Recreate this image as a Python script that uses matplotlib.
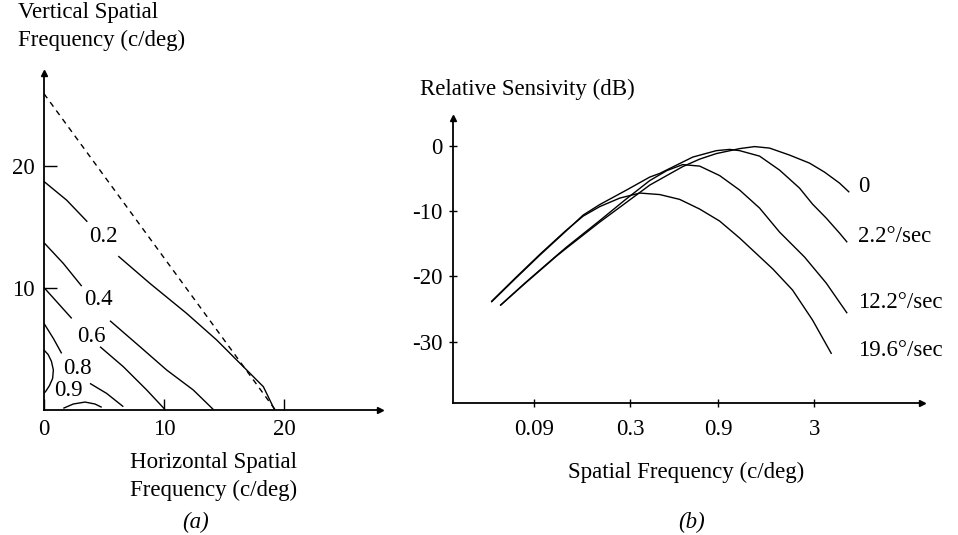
import matplotlib
matplotlib.use("Agg")
import matplotlib.pyplot as plt
from matplotlib.ticker import NullLocator

# ---------------- data: panel (a) contour lines (c/deg) ----------------
dash_x = [0.0, 19.25]
dash_y = [25.9, 0.0]

c02_a_x = [0.0, 1.89, 3.61]
c02_a_y = [18.7, 17.17, 15.4]
c02_b_x = [6.19, 8.83, 11.89, 14.39, 16.89, 18.28, 19.2]
c02_b_y = [12.58, 10.34, 7.88, 5.70, 3.24, 1.87, 0.0]

c04_a_x = [0.0, 1.61, 3.14]
c04_a_y = [13.68, 11.98, 10.12]
c04_b_x = [5.5, 8.0, 10.22, 12.44, 14.11]
c04_b_y = [7.28, 5.15, 3.24, 1.6, 0.0]

c06_a_x = [0.0, 1.06, 2.31]
c06_a_y = [10.0, 8.84, 7.47]
c06_b_x = [4.67, 6.61, 8.56, 10.08]
c06_b_y = [5.15, 3.51, 1.6, 0.0]

c08_a_x = [0.0, 0.78, 1.47]
c08_a_y = [7.06, 5.83, 4.6]
c08_b_x = [3.83, 5.22, 6.61]
c08_b_y = [2.14, 1.32, 0.23]

c09_a_x = [0.0, 0.35, 0.62, 0.78, 0.72, 0.45, 0.15, 0.0]
c09_a_y = [4.88, 4.5, 3.95, 3.24, 2.55, 1.95, 1.5, 1.33]
c09_b_x = [1.61, 2.44, 3.42, 4.25, 4.81]
c09_b_y = [0.1, 0.45, 0.61, 0.45, 0.18]

contour_labels = ["0.2", "0.4", "0.6", "0.8", "0.9"]
contour_label_x = [4.94, 4.56, 3.97, 2.75, 2.03]
contour_label_y = [14.2, 9.0, 5.97, 3.37, 1.54]

a_xticks = [0, 10, 20]
a_yticks = [10, 20]

# ---------------- data: panel (b) sensitivity curves ----------------
freq_0 = [0.0594, 0.0804, 0.1195, 0.1353, 0.2050, 0.2802, 0.3827, 0.5777, 0.7142,
          0.8799, 1.1769, 1.4191, 1.7113, 2.1963, 2.8190, 3.4004, 4.1010, 4.6036]
db_0 = [-24.40, -21.10, -16.89, -15.67, -11.68, -8.85, -6.02, -3.19, -2.04,
        -1.19, -0.43, -0.12, -0.35, -1.42, -2.65, -4.03, -5.71, -7.04]

freq_2_2 = [0.0531, 0.0710, 0.0970, 0.1325, 0.1665, 0.2050, 0.2862, 0.3827, 0.4336,
            0.6546, 0.8799, 1.0387, 1.1769, 1.5105, 1.9390, 2.4886, 2.9268, 3.4732,
            4.1010, 4.4906]
db_2_2 = [-23.89, -20.41, -16.74, -13.22, -10.61, -9.00, -6.78, -4.79, -4.23,
          -1.73, -0.74, -0.55, -0.74, -1.58, -3.72, -6.48, -8.93, -11.07,
          -13.37, -14.70]

freq_12_2 = [0.0594, 0.0804, 0.1195, 0.1353, 0.2050, 0.2802, 0.3827, 0.4733, 0.5777,
             0.7142, 0.9168, 1.1769, 1.5105, 1.9390, 2.6485, 3.4732, 4.4906]
db_12_2 = [-24.40, -21.03, -16.81, -15.51, -11.45, -8.32, -5.33, -3.80, -2.88,
           -3.11, -4.56, -6.78, -9.54, -13.22, -17.04, -21.03, -25.57]

freq_19_6 = [0.0531, 0.0710, 0.0970, 0.1325, 0.1665, 0.2050, 0.2632, 0.3379, 0.4336,
             0.5564, 0.7142, 0.9168, 1.1769, 1.7833, 2.2803, 2.9268, 3.6972]
db_19_6 = [-23.80, -20.30, -16.62, -13.12, -10.77, -9.31, -8.01, -7.24, -7.47,
           -8.21, -9.69, -11.53, -14.13, -18.88, -22.10, -26.69, -31.79]

curve_labels = ["0", "2.2°/sec", "12.2°/sec", "19.6°/sec"]
curve_label_db = [-6.3, -13.9, -24.0, -31.3]
b_xticks = [0.09, 0.3, 0.9, 3]
b_xticklabels = ["0.09", "0.3", "0.9", "3"]
b_yticks = [0, -10, -20, -30]

# ---------------- figure ----------------
W, H = 958, 535
fig = plt.figure(figsize=(W / 100, H / 100), dpi=100)
SERIF = ["Liberation Serif", "DejaVu Serif"]
plt.rcParams["font.family"] = SERIF
LW = 1.0
FS_TICK = 16.5
FS_LAB = 16.5


def px_axes(left, right, bottom, top):
    return fig.add_axes([left / W, 1 - bottom / H, (right - left) / W, (bottom - top) / H])


def style(ax):
    for s in ("top", "right"):
        ax.spines[s].set_visible(False)
    for s in ("left", "bottom"):
        ax.spines[s].set_linewidth(1.3)
    ax.patch.set_alpha(0)
    ax.plot([1], [0], marker=">", color="k", ms=5, transform=ax.transAxes, clip_on=False)
    ax.plot([0], [1], marker="^", color="k", ms=5, transform=ax.transAxes, clip_on=False)


# ---- panel (a)
axa = px_axes(44, 380, 409.5, 73)
style(axa)
axa.set_xlim(0, 28.0)
axa.set_ylim(0, 27.6)
axa.plot(dash_x, dash_y, color="k", lw=LW, ls=(0, (4, 3.5)))
for xs, ys in [(c02_a_x, c02_a_y), (c02_b_x, c02_b_y), (c04_a_x, c04_a_y),
               (c04_b_x, c04_b_y), (c06_a_x, c06_a_y), (c06_b_x, c06_b_y),
               (c08_a_x, c08_a_y), (c08_b_x, c08_b_y), (c09_a_x, c09_a_y),
               (c09_b_x, c09_b_y)]:
    axa.plot(xs, ys, color="k", lw=LW, solid_capstyle="butt")
for t, x, y in zip(contour_labels, contour_label_x, contour_label_y):
    axa.text(x, y, t, ha="center", va="center", fontsize=FS_TICK)
axa.set_xticks(a_xticks)
axa.set_xticklabels([str(v) for v in a_xticks])
axa.set_yticks(a_yticks)
axa.set_yticklabels([str(v) for v in a_yticks])
axa.tick_params(axis="x", direction="in", length=8, width=1.0, pad=7, labelsize=FS_TICK)
axa.tick_params(axis="y", direction="in", length=9.5, width=1.0, pad=7, labelsize=FS_TICK)

fig.text(18 / W, 1 - 18.3 / H, "Vertical Spatial", fontsize=FS_LAB, va="baseline")
fig.text(18 / W, 1 - 45.7 / H, "Frequency (c/deg)", fontsize=FS_LAB, va="baseline")
fig.text(214 / W, 1 - 468 / H, "Horizontal Spatial", fontsize=FS_LAB, va="baseline", ha="center")
fig.text(214 / W, 1 - 496 / H, "Frequency (c/deg)", fontsize=FS_LAB, va="baseline", ha="center")
fig.text(196 / W, 1 - 528 / H, "(a)", fontsize=FS_LAB, va="baseline", ha="center", style="italic")

# ---- panel (b)
axb = px_axes(453.3, 922, 402.7, 118.4)
style(axb)
axb.set_xscale("log")
axb.set_xlim(0.03285, 11.5)
axb.set_ylim(-39.36, 4.2)
for f, d in [(freq_0, db_0), (freq_2_2, db_2_2), (freq_12_2, db_12_2), (freq_19_6, db_19_6)]:
    axb.plot(f, d, color="k", lw=LW)
axb.set_xticks(b_xticks)
axb.set_xticklabels(b_xticklabels)
axb.xaxis.set_minor_locator(NullLocator())
axb.set_yticks(b_yticks)
axb.set_yticklabels([str(v) for v in b_yticks])
axb.tick_params(axis="x", direction="inout", length=6, width=1.0, pad=9, labelsize=FS_TICK)
axb.tick_params(axis="y", direction="inout", length=6, width=1.0, pad=5, labelsize=FS_TICK)

for t, y in zip(curve_labels, curve_label_db):
    axb.annotate(t, xy=(4.6, y), xytext=(7, 0), textcoords="offset points",
                 ha="left", va="center", fontsize=FS_TICK)

fig.text(420 / W, 1 - 95 / H, "Relative Sensivity (dB)", fontsize=FS_LAB, va="baseline")
fig.text(686 / W, 1 - 478 / H, "Spatial Frequency (c/deg)", fontsize=FS_LAB, va="baseline", ha="center")
fig.text(692 / W, 1 - 528 / H, "(b)", fontsize=FS_LAB, va="baseline", ha="center", style="italic")

fig.savefig("out.png", dpi=100, facecolor="white")
